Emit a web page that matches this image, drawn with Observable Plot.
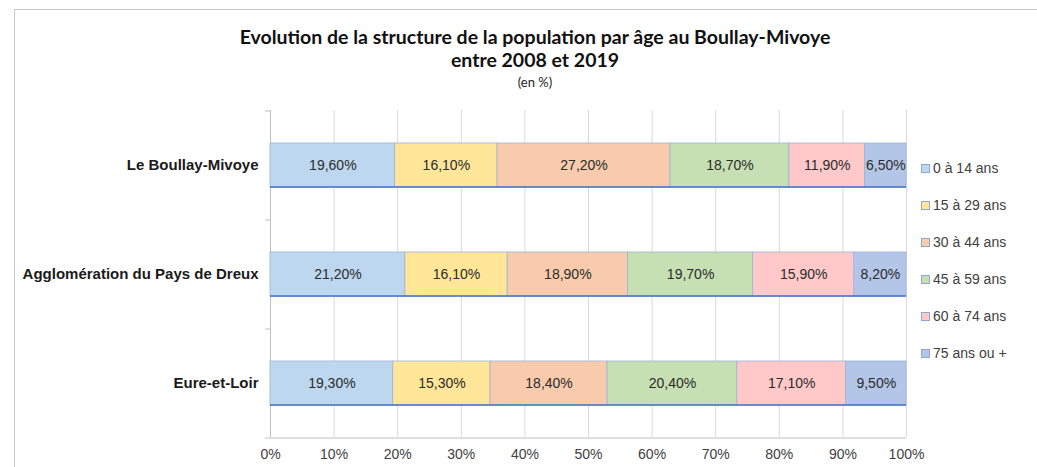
<!DOCTYPE html>
<html>
<head>
<meta charset="utf-8">
<script src="https://cdn.jsdelivr.net/npm/d3@7"></script>
<script src="https://cdn.jsdelivr.net/npm/@observablehq/plot@0.6"></script>
<style>
  html, body { margin: 0; padding: 0; background: #fff; }
  #wrap { position: relative; width: 1037px; height: 467px; overflow: hidden; font-family: "Liberation Sans", Arial, sans-serif; }
  #frame { position: absolute; left: 14px; top: 9px; width: 1100px; height: 600px; border: 1px solid #c8c8c8; box-sizing: border-box; }
  .title { position: absolute; left: 0; width: 1070px; text-align: center; font-family: Lato, "Open Sans", sans-serif; color: #111; }
  #t1 { top: 25px; font-size: 19.5px; font-weight: 700; }
  #t2 { top: 48px; font-size: 19.5px; font-weight: 700; }
  #t3 { top: 74px; font-size: 13px; font-weight: 400; color: #222; }
  #legend { position: absolute; left: 921px; top: 0; }
  .li { position: absolute; left: 0; white-space: nowrap; font-size: 14px; color: #404040; display: flex; align-items: center; }
  .sw { width: 7px; height: 7px; margin-right: 3px; border: 1px solid #8fa8d0; }
  #chart { position: absolute; left: 0; top: 0; }
</style>
</head>
<body>
<div id="wrap">
  <div id="frame"></div>
  <div class="title" id="t1">Evolution de la structure de la population par âge au Boullay-Mivoye</div>
  <div class="title" id="t2">entre 2008 et 2019</div>
  <div class="title" id="t3">(en %)</div>
  <div id="chart"></div>
  <div id="legend"></div>
</div>
<script>
const categories = ["Le Boullay-Mivoye", "Agglomération du Pays de Dreux", "Eure-et-Loir"];
const ageGroups = ["0 à 14 ans", "15 à 29 ans", "30 à 44 ans", "45 à 59 ans", "60 à 74 ans", "75 ans ou +"];
const colors = ["#bdd7ee", "#ffe699", "#f8cbad", "#c6e0b4", "#ffc9c9", "#b4c6e7"];
const boullayValues = [19.6, 16.1, 27.2, 18.7, 11.9, 6.5];
const dreuxValues = [21.2, 16.1, 18.9, 19.7, 15.9, 8.2];
const eureValues = [19.3, 15.3, 18.4, 20.4, 17.1, 9.5];
const xTicks = [0, 10, 20, 30, 40, 50, 60, 70, 80, 90, 100];

const seriesByCat = [boullayValues, dreuxValues, eureValues];
const rows = [];
categories.forEach((c, i) => {
  seriesByCat[i].forEach((v, j) => rows.push({cat: c, group: ageGroups[j], value: v}));
});

const fmt = v => v.toFixed(2).replace(".", ",") + "%";

const W = 1037, H = 467;
const mTop = 110, mBottom = 30, mLeft = 270, mRight = 131;
const step = (H - mTop - mBottom) / categories.length;

const plot = Plot.plot({
  width: W,
  height: H,
  marginTop: mTop,
  marginBottom: mBottom,
  marginLeft: mLeft,
  marginRight: mRight,
  style: {fontFamily: "'Liberation Sans', Arial, sans-serif", fontSize: "14px", color: "#404040", background: "transparent", overflow: "visible"},
  x: {domain: [0, 100], label: null},
  y: {domain: categories, paddingInner: 0.6, paddingOuter: 0.3, label: null},
  color: {domain: ageGroups, range: colors},
  marks: [
    Plot.ruleX(xTicks.slice(1), {stroke: "#d9d9d9", strokeWidth: 1}),
    Plot.ruleX([0], {stroke: "#bfbfbf", strokeWidth: 1}),
    Plot.ruleY(categories, {y: d => d, dy: -step / 2, x1: -0.8, x2: 0, stroke: "#bfbfbf"}),
    Plot.ruleY([categories[categories.length - 1]], {y: d => d, dy: step / 2, x1: -0.8, x2: 100, stroke: "#bfbfbf"}),
    Plot.barX(rows, Plot.stackX({x: "value", y: "cat", fill: "group", order: null, stroke: "#9db3d8", strokeWidth: 0.8})),
    Plot.text(rows, Plot.stackX({x: "value", y: "cat", order: null, text: d => fmt(d.value), fill: "#2b2b2b", fontSize: 14})),
    Plot.axisX({ticks: xTicks, tickFormat: d => d + "%", tickSize: 0, tickPadding: 12, fontSize: 14, fill: "#404040", label: null}),
    Plot.axisY({tickSize: 0, tickPadding: 12, fontWeight: "bold", fontSize: 15, fill: "#1a1a1a", label: null})
  ]
});
document.getElementById("chart").appendChild(plot);

// Bottom edge of each bar (darker blue line), positioned with the plot's scales
const ySc = plot.scale("y");
const xSc = plot.scale("x");
const svg = d3.select(plot);
categories.forEach(c => {
  const yb = ySc.apply(c) + ySc.bandwidth;
  svg.append("line")
    .attr("x1", xSc.apply(0)).attr("x2", xSc.apply(100))
    .attr("y1", yb).attr("y2", yb)
    .attr("stroke", "#4472c4").attr("stroke-width", 1.5);
});

const legend = document.getElementById("legend");
ageGroups.forEach((g, i) => {
  const div = document.createElement("div");
  div.className = "li";
  div.style.top = (160 + i * 37) + "px";
  const sw = document.createElement("span");
  sw.className = "sw";
  sw.style.background = colors[i];
  div.appendChild(sw);
  div.appendChild(document.createTextNode(g));
  legend.appendChild(div);
});
</script>
</body>
</html>
